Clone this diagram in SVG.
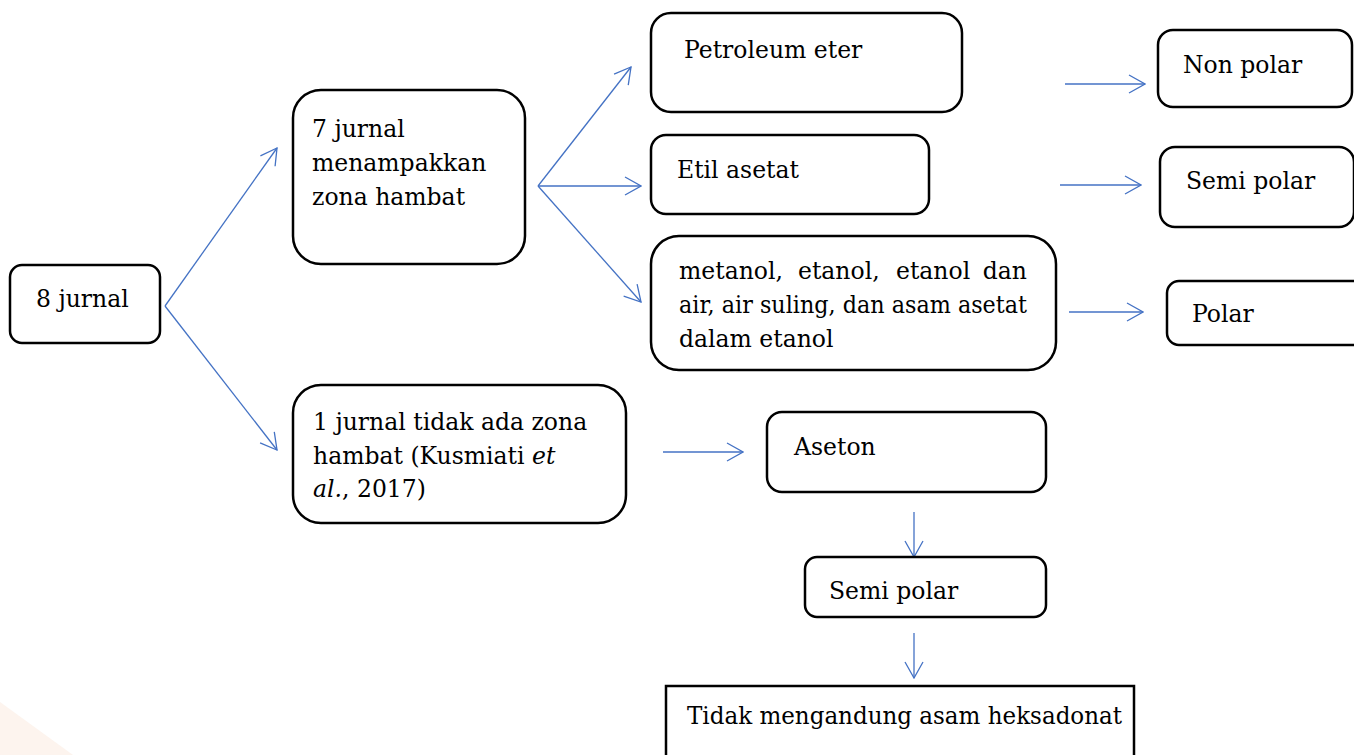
<svg xmlns="http://www.w3.org/2000/svg" width="1354" height="755" viewBox="0 0 1354 755">
<style>
.box{fill:#fff;stroke:#000;stroke-width:2.5}
.t{font-family:'DejaVu Serif','Liberation Serif',serif;font-size:23.5px;fill:#000}
.c{stroke:#4472C4;stroke-width:1.3;fill:none;marker-end:url(#ah)}
</style>
<defs>
<marker id="ah" viewBox="0 0 18 20" refX="17" refY="10" markerWidth="18" markerHeight="20" markerUnits="userSpaceOnUse" orient="auto">
<path d="M1,1 L17,10 L1,19" fill="none" stroke="#4472C4" stroke-width="1.3"/>
</marker>
</defs>
<rect width="1354" height="755" fill="#fff"/>
<polygon points="0,702 73,755 0,755" fill="#fdf4ee"/>
<g id="connectors">
<line class="c" x1="165" y1="306" x2="277" y2="148"/>
<line class="c" x1="165" y1="306" x2="277" y2="450"/>
<line class="c" x1="538" y1="186" x2="631" y2="67"/>
<line class="c" x1="538" y1="186" x2="641" y2="186"/>
<line class="c" x1="538" y1="186" x2="641" y2="302"/>
<line class="c" x1="1065" y1="84" x2="1145" y2="84"/>
<line class="c" x1="1060" y1="185" x2="1141" y2="185"/>
<line class="c" x1="1069" y1="312" x2="1143" y2="312"/>
<line class="c" x1="663" y1="452" x2="743" y2="452"/>
<line class="c" x1="914" y1="512" x2="914" y2="557"/>
<line class="c" x1="914" y1="633" x2="914" y2="678"/>
</g>
<g id="n8jurnal">
<rect class="box" x="10" y="265" width="150" height="78" rx="12"/>
<text class="t" x="36" y="307">8 jurnal</text>
</g>
<g id="n7jurnal">
<rect class="box" x="293" y="90" width="232" height="174" rx="28"/>
<text class="t" x="312" y="137">7 jurnal</text>
<text class="t" x="312" y="171">menampakkan</text>
<text class="t" x="312" y="205">zona hambat</text>
</g>
<g id="n1jurnal">
<rect class="box" x="293" y="385" width="333" height="138" rx="28"/>
<text class="t" x="313" y="430">1 jurnal tidak ada zona</text>
<text class="t" x="313" y="464">hambat (Kusmiati <tspan font-style="italic">et</tspan></text>
<text class="t" x="313" y="497"><tspan font-style="italic">al.</tspan>, 2017)</text>
</g>
<g id="npetroleum">
<rect class="box" x="651" y="13" width="311" height="99" rx="20"/>
<text class="t" x="684" y="58">Petroleum eter</text>
</g>
<g id="netil">
<rect class="box" x="651" y="135" width="278" height="79" rx="15"/>
<text class="t" x="677" y="178">Etil asetat</text>
</g>
<g id="nmetanol">
<rect class="box" x="651" y="236" width="405" height="134" rx="28"/>
<text class="t" x="679" y="279">metanol,</text>
<text class="t" x="798" y="279">etanol,</text>
<text class="t" x="896" y="279">etanol</text>
<text class="t" x="1027" y="279" text-anchor="end">dan</text>
<text class="t" x="679" y="313" textLength="348" lengthAdjust="spacingAndGlyphs">air, air suling, dan asam asetat</text>
<text class="t" x="679" y="347">dalam etanol</text>
</g>
<g id="nnonpolar">
<rect class="box" x="1158" y="30" width="194" height="77" rx="15"/>
<text class="t" x="1183" y="73">Non polar</text>
</g>
<g id="nsemipolar1">
<rect class="box" x="1160" y="147" width="194" height="80" rx="15"/>
<text class="t" x="1186" y="189">Semi polar</text>
</g>
<g id="npolar">
<rect class="box" x="1167" y="281" width="200" height="64" rx="12"/>
<text class="t" x="1192" y="322">Polar</text>
</g>
<g id="naseton">
<rect class="box" x="767" y="412" width="279" height="80" rx="15"/>
<text class="t" x="794" y="455">Aseton</text>
</g>
<g id="nsemipolar2">
<rect class="box" x="805" y="557" width="241" height="60" rx="12"/>
<text class="t" x="829" y="599">Semi polar</text>
</g>
<g id="ntidak">
<rect class="box" x="666" y="686" width="468" height="90"/>
<text class="t" x="687" y="724" textLength="435" lengthAdjust="spacingAndGlyphs">Tidak mengandung asam heksadonat</text>
</g>
</svg>
